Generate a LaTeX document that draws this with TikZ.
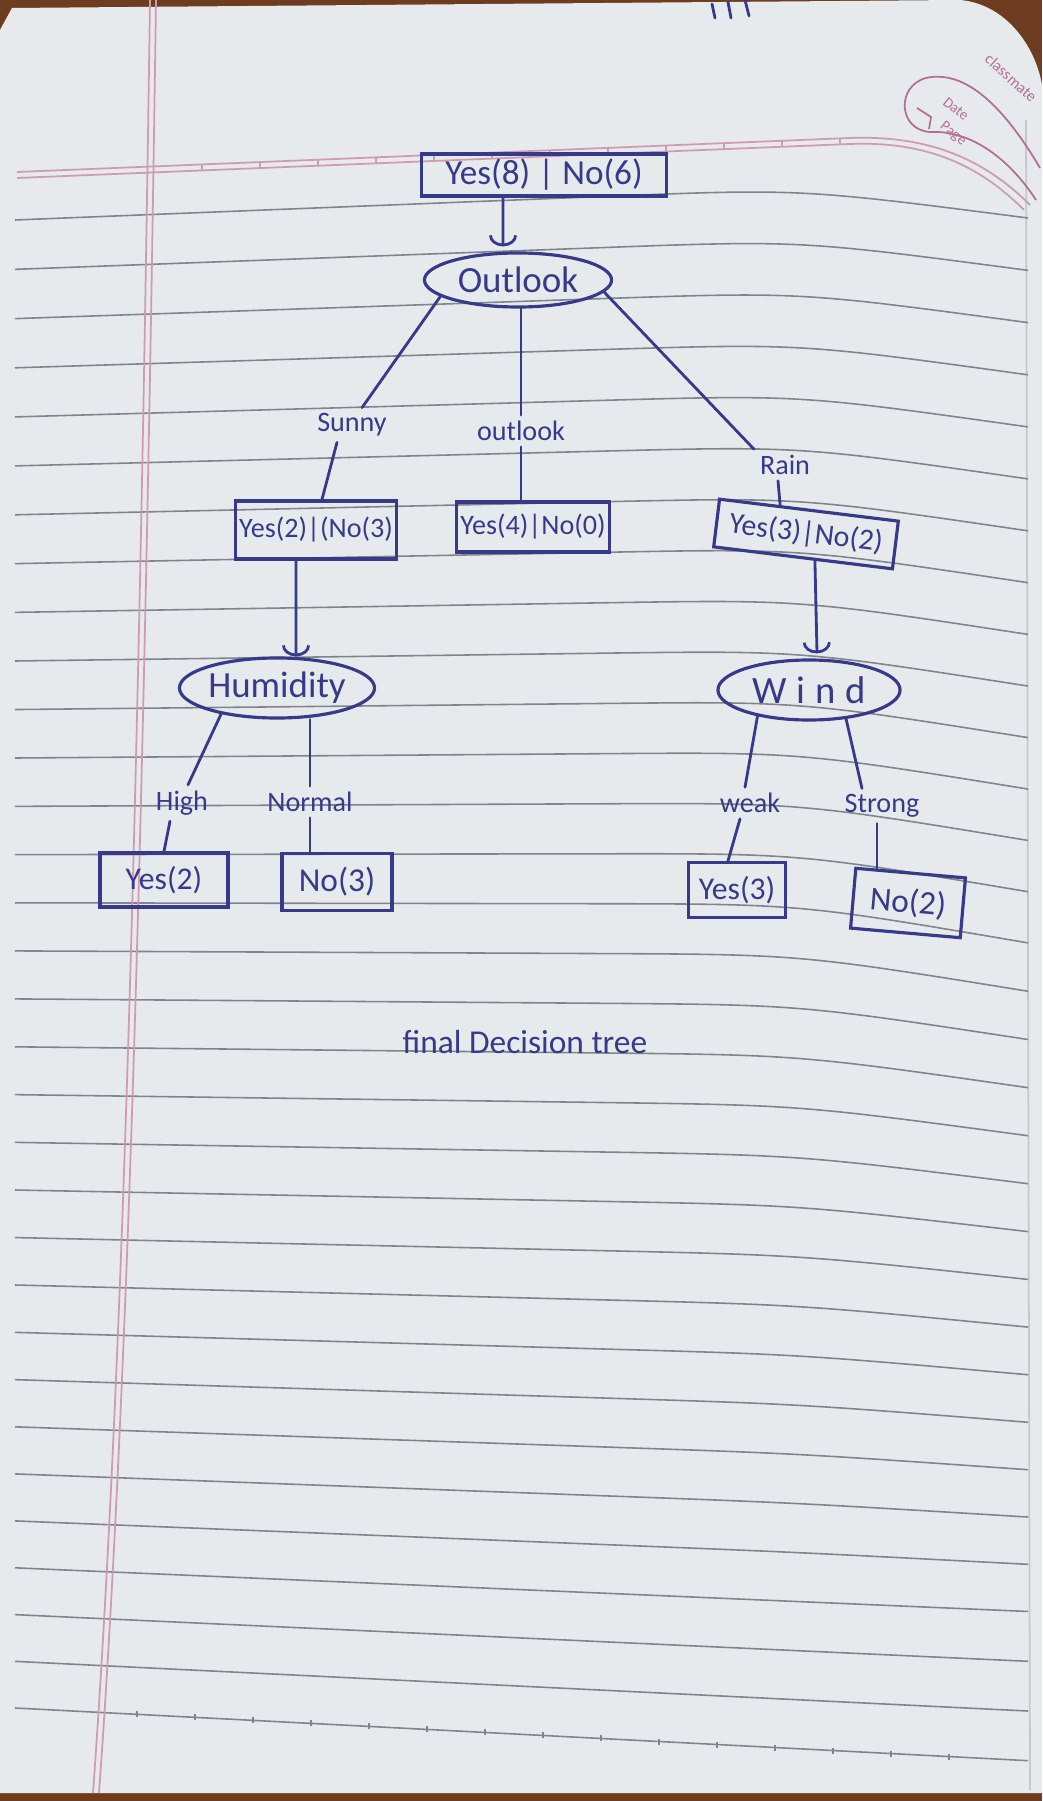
\documentclass[tikz,border=0pt]{standalone}
\usepackage{fontspec}
\setmainfont{Carlito}
\usetikzlibrary{arrows.meta,shapes.geometric}
\definecolor{ink}{HTML}{363A88}
\definecolor{paper}{HTML}{E7EAED}
\definecolor{rule}{HTML}{80848B}
\definecolor{margin}{HTML}{CE9CAE}
\definecolor{logo}{HTML}{B36F8E}
\definecolor{desk}{HTML}{6E3D20}

\begin{document}
\begin{tikzpicture}[x=0.01cm,y=-0.01cm,
    every node/.style={text=ink},
    inkline/.style={draw=ink,line width=0.8pt,line cap=round},
    cuptip/.style={-{Arc Barb[width=2.8mm,length=1.1mm]}},
    countbox/.style={draw=ink,line width=0.9pt,inner sep=1pt},
    attrnode/.style={ellipse,draw=ink,line width=0.9pt,inner sep=0pt},
    branch/.style={inner sep=1.5pt,font=\fontsize{8}{9}\selectfont}]
    \useasboundingbox (0,0) rectangle (1042,1801);

    \fill[desk] (0,0) rectangle (1042,1801); % table
    \fill[paper] (12,8) -- (960,0) .. controls (1005,4) and (1035,45) .. (1042,85)
        -- (1042,1793) -- (0,1793) -- (0,30) -- cycle; % page
    \draw[rule!45,line width=0.5pt] (1026,120) -- (1030,1790); % page edge

    \foreach \i in {0,...,31}{
        \pgfmathsetmacro\yl{220+49.41*\i-0.0455*\i*\i}
        \pgfmathsetmacro\sl{-0.04+0.092*\i/31}
        \pgfmathsetmacro\bend{\i<14 ? 0.09 : max(0,0.09*(28-\i)/14)}
        \pgfmathsetmacro\ym{\yl+585*\sl}
        \pgfmathsetmacro\yc{\ym+200*\sl}
        \pgfmathsetmacro\yr{\ym+428*(\sl+\bend)}
        \draw[rule,line width=0.45pt] (15,\yl) -- (600,\ym) .. controls (800,\yc) .. (1028,\yr);
    }
    \foreach \x in {137,195,...,990}
        \draw[rule,line width=0.45pt] (\x,{1708+0.052*(\x-15)-3}) -- ++(0,6); % ticks

    \draw[margin,line width=0.5pt] (17,172) -- (850,138) .. controls (930,135) and (985,160) .. (1030,205);
    \draw[margin,line width=0.5pt] (17,178) -- (850,144) .. controls (928,141) and (980,166) .. (1024,210);
    \foreach \x in {202,260,...,840}
        \draw[margin,line width=0.45pt] (\x,{172-0.0408*(\x-17)}) -- ++(0,6);
    \draw[margin,line width=0.5pt] (150,0) .. controls (140,700) and (125,1350) .. (93,1793); % margin
    \draw[margin,line width=0.5pt] (156,0) .. controls (146,700) and (131,1350) .. (99,1793);

    % logo
    \draw[logo,line width=0.5pt] (1040,168) .. controls (1000,100) and (962,70) .. (926,78)
        .. controls (896,86) and (898,130) .. (930,132) .. controls (972,130) and (1010,160) .. (1036,200);
    \draw[logo,line width=0.5pt] (917,108) -- (931,117) -- (929,129);
    \node[text=logo,font=\fontsize{4.5}{5}\selectfont,rotate=-42,inner sep=0] (brand) at (1011,78) {classmate};
    \node[text=logo,font=\fontsize{4.2}{5}\selectfont,rotate=-38,inner sep=0] (datelbl) at (956,109) {Date};
    \node[text=logo,font=\fontsize{4.2}{5}\selectfont,rotate=-38,inner sep=0] (pagelbl) at (953,134) {Page};
    \draw[inkline] (712,4) -- (715,18) (728,2) -- (731,18) (745,0) -- (749,16); % marks

    % tree
    \node[countbox,minimum width=2.45cm,minimum height=0.42cm,font=\fontsize{10}{12}\selectfont] (root) at (544,175) {Yes(8) | No(6)};
    \node[attrnode,minimum width=1.87cm,minimum height=0.54cm,font=\fontsize{10.5}{12}\selectfont] (outlook) at (518,280) {Outlook};
    \draw[inkline,cuptip] ([xshift=-0.41cm]root.south) -- ([xshift=-0.15cm,yshift=0.05cm]outlook.north);

    \node[branch] (sunny) at (352,425) {Sunny};
    \node[branch] (overcast) at (521,431) {outlook};
    \node[branch] (rain) at (785,465) {Rain};

    \node[countbox,minimum width=1.58cm,minimum height=0.58cm,font=\fontsize{8}{9}\selectfont] (sunnybox) at (316,530) {Yes(2)|(No(3)};
    \node[countbox,minimum width=1.53cm,minimum height=0.5cm,font=\fontsize{8}{9}\selectfont] (overcastbox) at (533,527) {Yes(4)|No(0)};
    \node[countbox,minimum width=1.8cm,minimum height=0.48cm,rotate=-7,font=\fontsize{8.5}{9}\selectfont] (rainbox) at (806,534) {Yes(3)|No(2)};

    \draw[inkline] (outlook.192) -- (sunny.60);
    \draw[inkline] ([xshift=-1.5mm]sunny.south) -- ([xshift=0.6mm]sunnybox.north);
    \draw[inkline] (overcast.north |- outlook.south) -- (overcast.north);
    \draw[inkline] (overcast.south) -- (overcast.south |- overcastbox.north);
    \draw[inkline] (outlook.-8) -- (rain.north west);
    \draw[inkline] ([xshift=-0.7mm]rain.south) -- ([xshift=-2.9mm,yshift=0.4mm]rainbox.north);

    \node[attrnode,minimum width=1.95cm,minimum height=0.6cm,font=\fontsize{10.5}{12}\selectfont] (humidity) at (277,688) {Humidity};
    \node[attrnode,minimum width=1.82cm,minimum height=0.6cm,font=\fontsize{11}{12}\selectfont] (wind) at (809,690) {\addfontfeature{LetterSpace=25}Wind};
    \draw[inkline,cuptip] ([xshift=-2mm]sunnybox.south) -- ([xshift=1.9mm]humidity.north);
    \draw[inkline,cuptip] ([xshift=1.2mm]rainbox.south) -- ([xshift=0.8mm,yshift=0.05cm]wind.north);

    \node[branch] (high) at (182,803) {High};
    \node[branch] (normal) at (310,802) {Normal};
    \node[branch] (weak) at (750,803) {weak};
    \node[branch] (strong) at (882,806) {Strong};

    \node[countbox,minimum width=1.28cm,minimum height=0.54cm,font=\fontsize{9}{10}\selectfont] (yes2) at (164,880) {Yes(2)};
    \node[countbox,minimum width=1.1cm,minimum height=0.57cm,font=\fontsize{9.5}{10}\selectfont] (no3) at (337,882) {No(3)};
    \node[countbox,minimum width=0.97cm,minimum height=0.55cm,font=\fontsize{9}{10}\selectfont] (yes3) at (737,890) {Yes(3)};
    \node[countbox,minimum width=1.1cm,minimum height=0.6cm,rotate=-5,font=\fontsize{9.5}{10}\selectfont] (no2) at (908,903) {No(2)};

    \draw[inkline] (humidity.205) -- ([xshift=0.6mm]high.north);
    \draw[inkline] ([xshift=-1.2mm]high.south) -- (yes2.north);
    \draw[inkline] (normal.north |- humidity.south) -- (normal.north);
    \draw[inkline] (normal.south) -- (normal.south |- no3.north);
    \draw[inkline] (wind.207) -- ([xshift=-0.5mm]weak.north);
    \draw[inkline] ([xshift=-1mm]weak.south) -- ([xshift=-0.9mm]yes3.north);
    \draw[inkline] (wind.-38) -- ([xshift=-2mm]strong.north);
    \draw[inkline] ([xshift=-0.5mm]strong.south) -- ([xshift=-0.5mm,yshift=0.3mm]strong.south |- no2.north);

    \node[font=\fontsize{9.5}{11}\selectfont] (caption) at (525,1042) {final Decision tree};
\end{tikzpicture}
\end{document}
